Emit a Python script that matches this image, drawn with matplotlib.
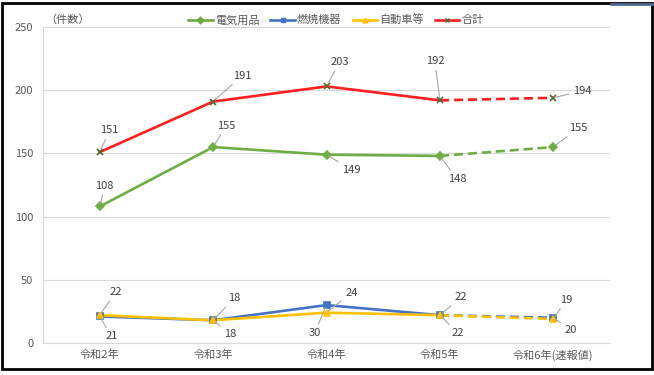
import matplotlib
matplotlib.use("Agg")
import matplotlib.pyplot as plt
from matplotlib.lines import Line2D
import numpy as np

plt.rcParams["font.family"] = ["Noto Sans CJK JP", "DejaVu Sans"]

years = ["令和2年", "令和3年", "令和4年", "令和5年", "令和6年(速報値)"]
denki = [108, 155, 149, 148, 155]     # 電気用品
nensho = [21, 18, 30, 22, 20]         # 燃焼機器
jidosha = [22, 18, 24, 22, 19]        # 自動車等
gokei = [151, 191, 203, 192, 194]     # 合計

# label offsets in pixels (dx, dy up) for each point
off_denki = [(5, 20), (13, 21), (25, -15), (17, -23), (25, 19)]
off_nensho = [(12, -20), (17, -14), (-12, -28), (18, -18), (17, -12)]
off_jidosha = [(16, 23), (21, 22), (25, 20), (21, 18), (13, 19)]
off_gokei = [(10, 22), (29, 26), (13, 24), (-5, 39), (29, 7)]

series = [
    ("電気用品", denki, "#70AD47", "D", "#70AD47", 4, off_denki),
    ("燃焼機器", nensho, "#4472C4", "s", "#4472C4", 4.5, off_nensho),
    ("自動車等", jidosha, "#FFC000", "^", "#FFC000", 5, off_jidosha),
    ("合計", gokei, "#FF2020", "x", "#4F6B35", 5, off_gokei),
]

fig = plt.figure(figsize=(6.54, 3.75), dpi=100)
ax = fig.add_axes([43 / 654, 32 / 375, 567 / 654, 316 / 375])
x = np.arange(len(years))

handles = []
for name, vals, col, mk, mcol, ms, offs in series:
    v = np.array(vals, dtype=float)
    ax.plot(x[:4], v[:4], "-", color=col, lw=1.9, zorder=3)
    ax.plot(x[3:], v[3:], "--", color=col, lw=1.9, dashes=(3.5, 1.8), zorder=3)
    ax.plot(x, v, ls="none", marker=mk, ms=ms, color=mcol, mec=mcol,
            mew=1.2, zorder=4)
    for xi, vi, (dx, dy) in zip(x, vals, offs):
        ax.annotate(f"{vi}", (xi, vi), xytext=(dx, dy), textcoords="offset pixels",
                    ha="center", va="center", fontsize=8, color="#404040",
                    arrowprops=dict(arrowstyle="-", color="#A6A6A6", lw=0.8,
                                    shrinkA=1, shrinkB=2), zorder=5)
    handles.append(Line2D([], [], color=col, lw=1.9, marker=mk, ms=3.5,
                          mfc=mcol, mec=mcol, label=name))

ax.set_xlim(-0.5, 4.5)
ax.set_ylim(0, 250)
ax.set_yticks(range(0, 251, 50))
ax.set_xticks(x)
ax.set_xticklabels(years)
ax.grid(axis="y", color="#D9D9D9", lw=0.8)
ax.set_axisbelow(True)
for s in ["top", "right"]:
    ax.spines[s].set_visible(False)
ax.spines["left"].set_color("#D9D9D9")
ax.spines["bottom"].set_color("#D9D9D9")
ax.tick_params(length=0, labelsize=8, colors="#595959")
ax.tick_params(axis="y", pad=7)
ax.tick_params(axis="x", pad=5)

fig.text(68 / 654, 1 - 20 / 375, "（件数）", ha="center", va="center",
         fontsize=8, color="#595959")
fig.legend(handles=handles, loc="center", bbox_to_anchor=(336 / 654, 1 - 20 / 375),
           ncol=4, frameon=False, fontsize=8, handlelength=2.2,
           columnspacing=1.0, handletextpad=0.2, labelcolor="#595959")

# outer frame
fig.add_artist(plt.Rectangle((2 / 654, 6 / 375), 650 / 654, 366 / 375,
                             transform=fig.transFigure, fill=False,
                             ec="black", lw=2))
fig.add_artist(Line2D([611 / 654, 652 / 654], [1 - 4 / 375, 1 - 4 / 375],
                      transform=fig.transFigure, color="#4F6A8F", lw=2))

fig.savefig("out.png", dpi=100)
